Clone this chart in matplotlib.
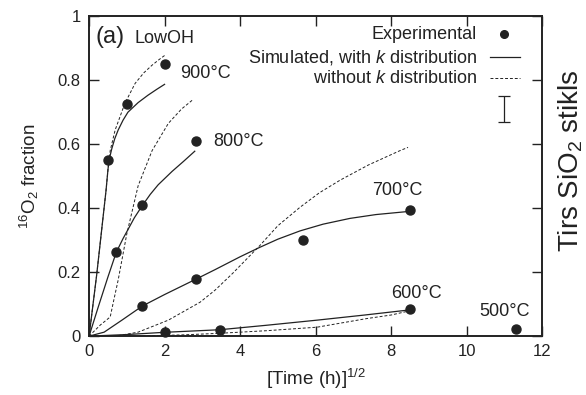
import matplotlib
matplotlib.use("Agg")
import matplotlib.pyplot as plt
import numpy as np

plt.rcParams['font.family'] = ['Liberation Sans', 'DejaVu Sans']
plt.rcParams['mathtext.fontset'] = 'custom'
plt.rcParams['mathtext.rm'] = 'Liberation Sans'
plt.rcParams['mathtext.it'] = 'Liberation Sans:italic'

# Experimental points: x = sqrt(time in h), y = 16O2 fraction
x900 = [0.5, 1.0, 2.0]
y900 = [0.55, 0.725, 0.85]
x800 = [0.71, 1.41, 2.83]
y800 = [0.262, 0.41, 0.61]
x700 = [1.41, 2.83, 5.66, 8.49]
y700 = [0.094, 0.178, 0.30, 0.393]
x600 = [2.0, 3.46, 8.49]
y600 = [0.012, 0.018, 0.084]
x500 = [11.31]
y500 = [0.022]

# Simulated, with k distribution (solid)
s900_x = [0, 0.2, 0.45, 0.5, 0.53, 0.6, 0.68, 0.77, 0.9, 1.03, 1.3, 1.56, 1.8, 2.0]
s900_y = [0, 0.19, 0.456, 0.52, 0.55, 0.585, 0.617, 0.644, 0.675, 0.70, 0.73, 0.753, 0.772, 0.787]
s800_x = [0, 0.24, 0.5, 0.72, 0.9, 1.03, 1.2, 1.41, 1.62, 1.83, 2.2, 2.5, 2.8]
s800_y = [0, 0.09, 0.185, 0.262, 0.305, 0.333, 0.37, 0.408, 0.443, 0.473, 0.515, 0.546, 0.578]
s700_x = [0, 0.4, 0.87, 1.41, 2.0, 2.83, 3.34, 4.0, 4.53, 5.0, 5.59, 6.2, 6.91, 7.6, 8.49]
s700_y = [0, 0.0125, 0.05, 0.094, 0.13, 0.178, 0.208, 0.248, 0.278, 0.303, 0.329, 0.35, 0.368, 0.38, 0.39]
s600_x = [0, 1.0, 2.0, 3.46, 4.7, 6.04, 7.3, 8.49]
s600_y = [0, 0.005, 0.012, 0.02, 0.034, 0.05, 0.066, 0.082]

# Simulated, without k distribution (dashed)
d900_x = [0, 0.2, 0.45, 0.5, 0.56, 0.69, 0.95, 1.22, 1.45, 1.67, 1.85, 2.01]
d900_y = [0, 0.19, 0.456, 0.52, 0.58, 0.644, 0.728, 0.79, 0.823, 0.847, 0.864, 0.878]
d800_x = [0, 0.3, 0.56, 0.65, 0.77, 1.0, 1.3, 1.67, 2.1, 2.45, 2.76]
d800_y = [0, 0.035, 0.06, 0.11, 0.175, 0.32, 0.47, 0.58, 0.665, 0.71, 0.74]
d700_x = [0, 0.8, 1.3, 2.1, 2.94, 3.34, 3.81, 4.53, 5.0, 5.59, 6.1, 6.65, 7.4, 8.24, 8.45]
d700_y = [0, 0.002, 0.0125, 0.05, 0.106, 0.144, 0.197, 0.284, 0.345, 0.403, 0.448, 0.4875, 0.535, 0.58, 0.59]
d600_x = [0, 1.2, 2.5, 3.47, 4.7, 6.04, 7.36, 8.0, 8.45]
d600_y = [0, 0.0, 0.004, 0.009, 0.017, 0.028, 0.055, 0.066, 0.078]

temp_labels = ["900°C", "800°C", "700°C", "600°C", "500°C"]
label_pos_x = [2.4, 3.3, 7.5, 8.0, 10.35]
label_pos_y = [0.82, 0.607, 0.455, 0.133, 0.078]

ink = '#222222'
fs = 13
fig = plt.figure(figsize=(5.86, 3.95), dpi=100)
ax = fig.add_axes([0.152, 0.149, 0.773, 0.81])

for xs, ys in [(s900_x, s900_y), (s800_x, s800_y), (s700_x, s700_y), (s600_x, s600_y)]:
    ax.plot(xs, ys, '-', color=ink, lw=0.9)
for xs, ys in [(d900_x, d900_y), (d800_x, d800_y), (d700_x, d700_y), (d600_x, d600_y)]:
    ax.plot(xs, ys, '--', color=ink, lw=0.7, dashes=(3, 2))
for xs, ys in [(x900, y900), (x800, y800), (x700, y700), (x600, y600), (x500, y500)]:
    ax.plot(xs, ys, 'o', color=ink, ms=6.5, clip_on=False, zorder=5)

for t, lx, ly in zip(temp_labels, label_pos_x, label_pos_y):
    ax.text(lx, ly, t, fontsize=fs, color=ink, ha='left', va='center')

ax.text(0.18, 0.935, "(a)", fontsize=17, color=ink, ha='left', va='center')
ax.text(1.2, 0.93, "LowOH", fontsize=fs, color=ink, ha='left', va='center')

# legend (manual, right aligned)
lx_text = 10.28
ax.text(lx_text, 0.944, "Experimental", fontsize=fs, color=ink, ha='right', va='center')
ax.plot([11.0], [0.944], 'o', color=ink, ms=5.5)
ax.text(lx_text, 0.872, "Simulated, with $\\mathit{k}$ distribution", fontsize=fs, color=ink, ha='right', va='center')
ax.plot([10.62, 11.42], [0.872, 0.872], '-', color=ink, lw=0.9)
ax.text(lx_text, 0.806, "without $\\mathit{k}$ distribution", fontsize=fs, color=ink, ha='right', va='center')
ax.plot([10.62, 11.42], [0.806, 0.806], '--', color=ink, lw=0.7, dashes=(3, 2))
ax.errorbar([11.0], [0.71], yerr=[0.04], fmt='none', ecolor=ink, elinewidth=0.9, capsize=4, capthick=0.9)

ax.set_xlim(0, 12)
ax.set_ylim(0, 1)
ax.set_xticks([0, 2, 4, 6, 8, 10, 12])
ax.set_xticklabels(['0', '2', '4', '6', '8', '10', '12'])
ax.set_yticks([0, 0.2, 0.4, 0.6, 0.8, 1.0])
ax.set_yticklabels(['0', '0.2', '0.4', '0.6', '0.8', '1'])
ax.tick_params(direction='in', top=True, right=True, labeltop=False, labelright=False,
               labelsize=12, colors=ink, length=7, width=1.0, pad=6)
for sp in ax.spines.values():
    sp.set_color(ink)
    sp.set_linewidth(1.4)

ax.set_xlabel("[Time (h)]$^{1/2}$", fontsize=13.5, color=ink, labelpad=5)
ax.set_ylabel("$^{16}$O$_2$ fraction", fontsize=13.5, color=ink, labelpad=12)

fig.text(0.974, 0.592, "Tirs SiO$_2$ stikls", rotation=90, fontsize=20, color=ink,
         ha='center', va='center')

fig.savefig("out.png", dpi=100)
